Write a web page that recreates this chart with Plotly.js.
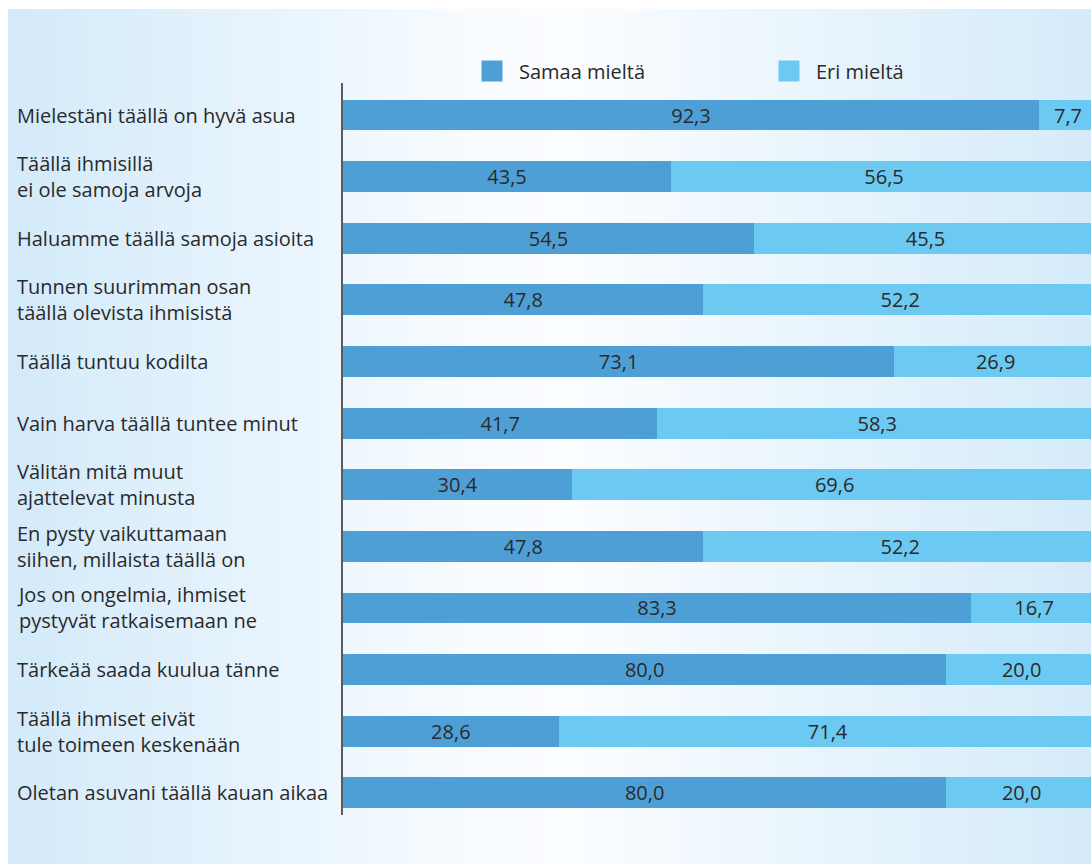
<!DOCTYPE html>
<html>
<head>
<meta charset="utf-8">
<script src="https://cdn.plot.ly/plotly-3.0.1.min.js"></script>
<style>
  html, body { margin: 0; padding: 0; background: #ffffff; }
  #bg { position: absolute; left: 8px; top: 9px; width: 1083px; height: 855px;
        background: linear-gradient(to right, #d3eafa 0%, #f9fcff 44%, #fbfdff 52%, #d5ebfa 100%); }
  #chart { position: absolute; left: 0; top: 0; width: 1091px; height: 865px; }
</style>
</head>
<body>
<div id="bg"></div>
<div id="chart"></div>
<script>
const categories = [
  "Mielestäni täällä on hyvä asua",
  "Täällä ihmisillä<br>ei ole samoja arvoja",
  "Haluamme täällä samoja asioita",
  "Tunnen suurimman osan<br>täällä olevista ihmisistä",
  "Täällä tuntuu kodilta",
  "Vain harva täällä tuntee minut",
  "Välitän mitä muut<br>ajattelevat minusta",
  "En pysty vaikuttamaan<br>siihen, millaista täällä on",
  "Jos on ongelmia, ihmiset<br>pystyvät ratkaisemaan ne",
  "Tärkeää saada kuulua tänne",
  "Täällä ihmiset eivät<br>tule toimeen keskenään",
  "Oletan asuvani täällä kauan aikaa"
];
const samaaMielta = [92.3, 43.5, 54.5, 47.8, 73.1, 41.7, 30.4, 47.8, 83.3, 80.0, 28.6, 80.0];
const eriMielta   = [7.7, 56.5, 45.5, 52.2, 26.9, 58.3, 69.6, 52.2, 16.7, 20.0, 71.4, 20.0];
const seriesNames = ["Samaa mieltä", "Eri mieltä"];
const colors = ["#4f9fd7", "#6cc9f2"];

const FONT = "Open Sans, sans-serif";
const txtFont = {family: FONT, size: 20, color: "#2a2a2a"};

const barCommon = {
  type: "bar", orientation: "h", y: categories, width: 0.5,
  texttemplate: "%{x:.1f}", textposition: "inside", insidetextanchor: "middle",
  textangle: 0, constraintext: "none", insidetextfont: txtFont,
  showlegend: false, hoverinfo: "none"
};

const traces = [
  Object.assign({}, barCommon, {x: samaaMielta, name: seriesNames[0], marker: {color: colors[0]}}),
  Object.assign({}, barCommon, {x: eriMielta, name: seriesNames[1], marker: {color: colors[1]}}),
  {type: "scatter", mode: "markers", x: [null], y: [null], name: seriesNames[0],
   marker: {symbol: "square", size: 16, color: colors[0], line: {color: colors[0], width: 5}}, hoverinfo: "none"},
  {type: "scatter", mode: "markers", x: [null], y: [null], name: seriesNames[1],
   marker: {symbol: "square", size: 16, color: colors[1], line: {color: colors[1], width: 5}}, hoverinfo: "none"}
];

const L = 343, W = 748;
const annotations = categories.map((c) => ({
  xref: "paper", yref: "y", x: (15 - L) / W, y: c, text: c,
  xanchor: "left", yanchor: "middle", align: "left", showarrow: false,
  font: txtFont
}));

const layout = {
  width: 1091, height: 865,
  margin: {l: L, r: 0, t: 83, b: 50, pad: 0},
  paper_bgcolor: "rgba(0,0,0,0)", plot_bgcolor: "rgba(0,0,0,0)",
  barmode: "stack",
  separators: ", ",
  font: txtFont,
  xaxis: {range: [0, 99.2], visible: false, fixedrange: true},
  yaxis: {type: "category", categoryorder: "array", categoryarray: categories,
          range: [11.36, -0.52], showticklabels: false, ticks: "",
          showgrid: false, zeroline: false,
          showline: true, linecolor: "#5b5b5b", linewidth: 2, fixedrange: true},
  showlegend: true,
  legend: {orientation: "h", x: (465 - L) / W, xanchor: "left", y: 1 + (83 - 71) / 732, yanchor: "middle",
           bgcolor: "rgba(0,0,0,0)", font: txtFont, itemwidth: 44, entrywidth: 238, entrywidthmode: "pixels",
           traceorder: "normal", itemclick: false, itemdoubleclick: false},
  annotations: annotations
};

Plotly.newPlot("chart", traces, layout, {displayModeBar: false, staticPlot: true});
</script>
</body>
</html>
